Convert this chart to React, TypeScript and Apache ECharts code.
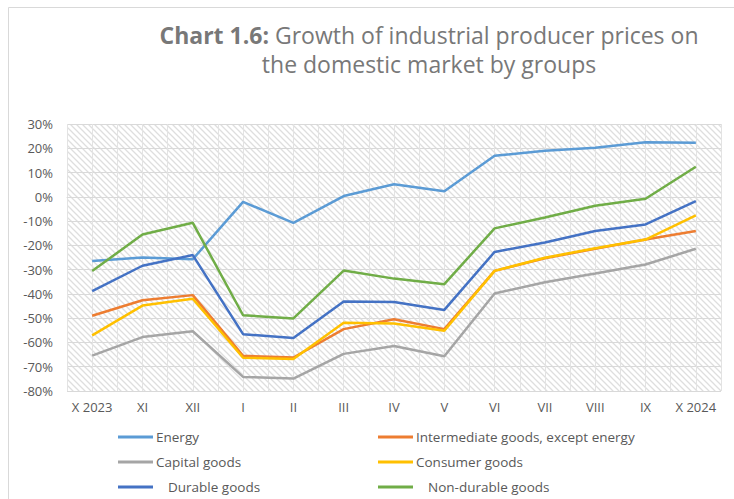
import React, { useEffect, useRef } from "react";
import * as echarts from "echarts";

const categories = ["X 2023", "XI", "XII", "I", "II", "III", "IV", "V", "VI", "VII", "VIII", "IX", "X 2024"];
const energy = [-26.4, -25.0, -25.7, -2.1, -10.7, 0.3, 5.2, 2.3, 16.9, 19.0, 20.2, 22.5, 22.3];
const intermediate = [-49.0, -42.6, -40.5, -65.5, -66.2, -54.5, -50.4, -54.5, -30.5, -25.3, -21.4, -17.6, -14.1];
const capital = [-65.4, -57.8, -55.4, -74.2, -74.9, -64.7, -61.5, -65.7, -39.8, -35.2, -31.6, -27.9, -21.4];
const consumer = [-57.1, -44.8, -42.0, -66.3, -66.8, -51.9, -52.2, -55.2, -30.5, -25.1, -21.2, -17.6, -7.6];
const durable = [-38.9, -28.4, -24.0, -56.6, -58.2, -43.1, -43.3, -46.6, -22.7, -18.8, -14.1, -11.4, -1.8];
const nonDurable = [-30.6, -15.5, -10.7, -48.8, -50.1, -30.4, -33.7, -36.0, -13.0, -8.5, -3.7, -0.8, 12.4];

const seriesNames = [
  "Energy",
  "Intermediate goods, except energy",
  "Capital goods",
  "Consumer goods",
  "Durable goods",
  "Non-durable goods",
];
const seriesColors = ["#5B9BD5", "#ED7D31", "#A5A5A5", "#FFC000", "#4472C4", "#70AD47"];
const seriesData = [energy, intermediate, capital, consumer, durable, nonDurable];

function makeHatch(): string {
  const s = 6;
  const c = document.createElement("canvas");
  c.width = s;
  c.height = s;
  const ctx = c.getContext("2d")!;
  ctx.fillStyle = "#ffffff";
  ctx.fillRect(0, 0, s, s);
  ctx.strokeStyle = "#dedede";
  ctx.lineWidth = 1.3;
  ctx.beginPath();
  ctx.moveTo(-1, -1);
  ctx.lineTo(s + 1, s + 1);
  ctx.moveTo(-1, s - 1);
  ctx.lineTo(1, s + 1);
  ctx.moveTo(s - 1, -1);
  ctx.lineTo(s + 1, 1);
  ctx.stroke();
  return c.toDataURL();
}

export default function App() {
  const ref = useRef<HTMLDivElement>(null);
  useEffect(() => {
    document.body.style.margin = "0";
    const chart = echarts.init(ref.current!, null, { renderer: "svg" });
    const font = "'Open Sans', sans-serif";
    const textColor = "#595959";
    const titleColor = "#787878";
    const rowsY = [437, 462, 487];
    const colsX = [118, 378];
    const legends = seriesNames.map((n, i) => {
      const col = i % 2;
      const row = Math.floor(i / 2);
      const extra = n.includes("urable") ? 12 : 0;
      return {
        left: colsX[col],
        top: rowsY[row] - 7,
        padding: 0,
        itemWidth: 35,
        itemHeight: 3,
        icon: "rect",
        data: [{ name: n }],
        textStyle: {
          fontFamily: font,
          fontSize: 13.5,
          color: textColor,
          padding: [0, 0, 0, -2 + extra],
        },
      };
    });
    chart.setOption({
      animation: false,
      textStyle: { fontFamily: font },
      title: {
        left: 424,
        top: 15,
        textAlign: "center",
        text: "{b|Chart 1.6:} Growth of industrial producer prices on\nthe domestic market by groups",
        textStyle: {
          fontFamily: font,
          fontSize: 23,
          fontWeight: "normal",
          color: titleColor,
          lineHeight: 29,
          align: "center",
          rich: {
            b: { fontFamily: font, fontSize: 23, fontWeight: "bold", color: titleColor, lineHeight: 29 },
          },
        },
      },
      graphic: [
        {
          type: "rect",
          shape: { x: 8.5, y: 7.5, width: 740, height: 520 },
          style: { fill: "none", stroke: "#d9d9d9", lineWidth: 1 },
          silent: true,
          z: -10,
        },
      ],
      legend: legends,
      grid: {
        left: 67,
        right: 13,
        top: 124,
        bottom: 108,
        show: true,
        borderWidth: 0,
        backgroundColor: { image: makeHatch(), repeat: "repeat" },
      },
      xAxis: [
        {
          type: "category",
          data: categories,
          boundaryGap: true,
          axisLine: { show: true, lineStyle: { color: "#d9d9d9" } },
          axisTick: { show: false },
          splitLine: { show: false },
          axisLabel: { interval: 0, color: textColor, fontSize: 13, fontFamily: font, margin: 9 },
        },
        {
          type: "value",
          min: 0,
          max: 26,
          interval: 1,
          show: true,
          axisLine: { show: false },
          axisTick: { show: false },
          axisLabel: { show: false },
          splitLine: { show: true, lineStyle: { color: "#e3e3e3", width: 1 } },
        },
      ],
      yAxis: {
        type: "value",
        min: -80,
        max: 30,
        interval: 10,
        axisLine: { show: false },
        axisTick: { show: false },
        axisLabel: { formatter: "{value}%", color: textColor, fontSize: 13, fontFamily: font, margin: 14 },
        splitLine: { show: true, lineStyle: { color: "#d9d9d9", width: 1 } },
      },
      series: seriesNames.map((name, i) => ({
        name,
        type: "line",
        xAxisIndex: 0,
        data: seriesData[i],
        symbol: "none",
        lineStyle: { color: seriesColors[i], width: 2.5 },
        itemStyle: { color: seriesColors[i] },
        z: 10 + (i === 3 ? 1 : 0),
      })),
    });
    return () => chart.dispose();
  }, []);
  return <div ref={ref} style={{ position: "absolute", left: 0, top: 0, width: 734, height: 499 }} />;
}
